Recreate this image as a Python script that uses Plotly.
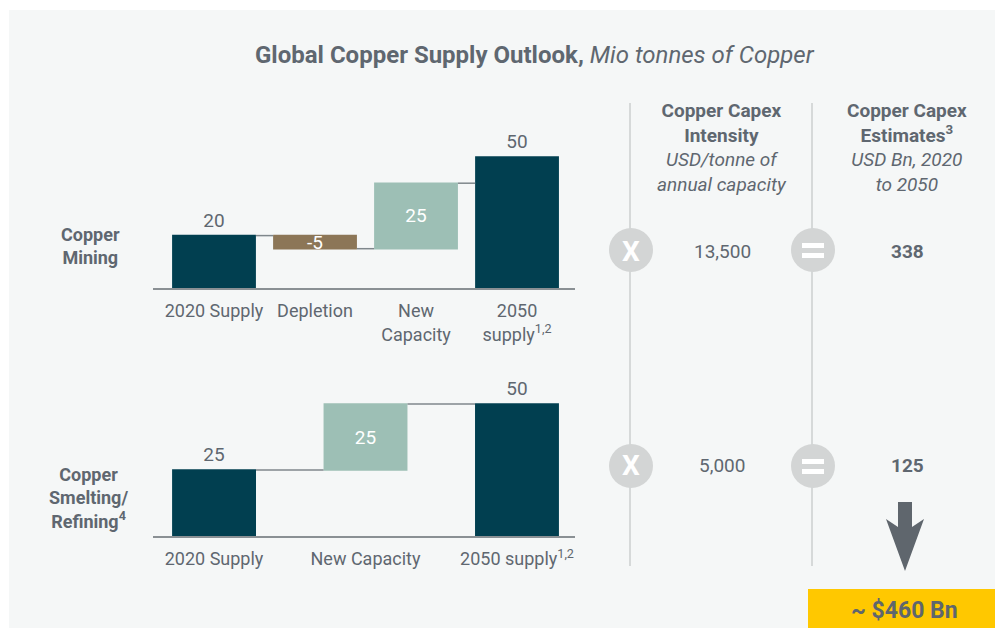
import plotly.graph_objects as go

W, H = 995, 628

# data
mining_cats = ['2020 Supply', 'Depletion', 'New<br>Capacity', '2050<br>supply<sup>1,2</sup>']
mining_vals = [20, -5, 25, 50]
mining_measure = ['absolute', 'relative', 'relative', 'absolute']

smelting_cats = ['2020 Supply', 'New Capacity', '2050 supply<sup>1,2</sup>']
smelting_vals = [25, 25, 50]
smelting_measure = ['absolute', 'relative', 'absolute']

capex_intensity = ['13,500', '5,000']
capex_estimates = ['338', '125']
capex_total = '~ $460 Bn'

DARK = '#013f50'
LIGHT = '#9dbfb5'
BROWN = '#8c7657'
GREY_TXT = '#5f6770'
FONT = 'Roboto'


def px(x):
    return x / W


def py(y):
    return 1 - y / H


def wf(cats, vals, measure, xa, ya, width):
    txt = [str(v) for v in vals]
    pos = ['inside' if m == 'relative' else 'outside' for m in measure]
    return go.Waterfall(
        x=cats, y=vals, measure=measure, xaxis=xa, yaxis=ya,
        width=width, text=txt, textposition=pos, textangle=0,
        insidetextanchor='middle', constraintext='none', cliponaxis=False,
        insidetextfont=dict(family=FONT, size=19, color='white'),
        outsidetextfont=dict(family=FONT, size=19, color=GREY_TXT),
        totals=dict(marker=dict(color=DARK)),
        increasing=dict(marker=dict(color=LIGHT)),
        decreasing=dict(marker=dict(color=BROWN)),
        connector=dict(line=dict(color='#7f878c', width=1.5)),
        showlegend=False,
    )


fig = go.Figure()
fig.add_trace(wf(mining_cats, mining_vals, mining_measure, 'x', 'y', 0.83))
fig.add_trace(wf(smelting_cats, smelting_vals, smelting_measure, 'x2', 'y2', 0.554))

xax = dict(showgrid=False, zeroline=False, showline=True, linecolor='#8a9094', linewidth=1.5,
           ticks='', ticklabelstandoff=6, tickfont=dict(family=FONT, size=18, color=GREY_TXT),
           domain=[px(153), px(575)], fixedrange=True)
yax = dict(visible=False, showgrid=False, zeroline=False, fixedrange=True)

fig.update_layout(
    width=W, height=H,
    margin=dict(l=0, r=0, t=0, b=0),
    paper_bgcolor='white',
    plot_bgcolor='rgba(0,0,0,0)',
    font=dict(family=FONT, color=GREY_TXT),
    xaxis=dict(xax, anchor='y', range=[-0.604, 3.574]),
    yaxis=dict(yax, domain=[py(288), py(130)], range=[0, (288 - 130) / 2.62]),
    xaxis2=dict(xax, anchor='y2', range=[-0.403, 2.383]),
    yaxis2=dict(yax, domain=[py(536), py(380)], range=[0, (536 - 380) / 2.64]),
)

shapes = [
    # background panel
    dict(type='rect', xref='paper', yref='paper', x0=px(9), x1=1, y0=0, y1=py(10),
         fillcolor='#f5f7f7', line=dict(width=0), layer='below'),
]
# separator lines
for lx in [630, 812]:
    shapes.append(dict(type='line', xref='paper', yref='paper', x0=px(lx), x1=px(lx),
                       y0=py(103), y1=py(566), line=dict(color='#d6d9d9', width=2)))
# operator circles
for cy in [250, 466]:
    for cx in [631, 813]:
        shapes.append(dict(type='circle', xref='paper', yref='paper',
                           x0=px(cx - 22), x1=px(cx + 22), y0=py(cy + 22), y1=py(cy - 22),
                           fillcolor='#d3d5d5', line=dict(width=0)))
    # "=" bars
    for by in [cy - 7, cy + 3]:
        shapes.append(dict(type='rect', xref='paper', yref='paper',
                           x0=px(802), x1=px(824), y0=py(by + 5), y1=py(by),
                           fillcolor='white', line=dict(width=0)))
# arrow
pts = [(898, 502), (912, 502), (912, 527), (924, 519), (905, 571), (886, 519), (898, 527)]
path = 'M ' + ' L '.join(f'{px(x):.5f},{py(y):.5f}' for x, y in pts) + ' Z'
shapes.append(dict(type='path', xref='paper', yref='paper', path=path,
                   fillcolor='#5f666d', line=dict(width=0)))
# total box
shapes.append(dict(type='rect', xref='paper', yref='paper', x0=px(808), x1=1, y0=0, y1=py(589),
                   fillcolor='#ffc800', line=dict(width=0)))
fig.update_layout(shapes=shapes)


def note(x, y, text, size=18, color=GREY_TXT, **kw):
    fig.add_annotation(xref='paper', yref='paper', x=px(x), y=py(y), text=text,
                       showarrow=False, xanchor='center', yanchor='middle',
                       font=dict(family=FONT, size=size, color=color), **kw)


note(535, 55, '<b>Global Copper Supply Outlook,</b> <i>Mio tonnes of Copper</i>', size=24)
note(90, 246, '<b>Copper<br>Mining</b>', size=18)
note(88, 498, '<b>Copper<br>Smelting/<br>Refining<sup>4</sup></b>', size=18)

note(722, 147, '<b>Copper Capex<br>Intensity</b><br><i>USD/tonne of<br>annual capacity</i>', size=19)
note(907, 147, '<b>Copper Capex<br>Estimates<sup>3</sup></b><br><i>USD Bn, 2020<br>to 2050</i>', size=19)

for cy, ci, ce in zip([251, 466], capex_intensity, capex_estimates):
    note(722, cy, ci, size=19)
    note(907, cy, f'<b>{ce}</b>', size=19)
    note(631, cy, '<b>X</b>', size=28, color='white')

note(904, 610, f'<b>{capex_total}</b>', size=23, color='#5f666d')

# drop the default page margin so the figure fills the window exactly
fig.write_html('out.html', config={'displayModeBar': False},
               post_script="document.body.style.margin='0';")
